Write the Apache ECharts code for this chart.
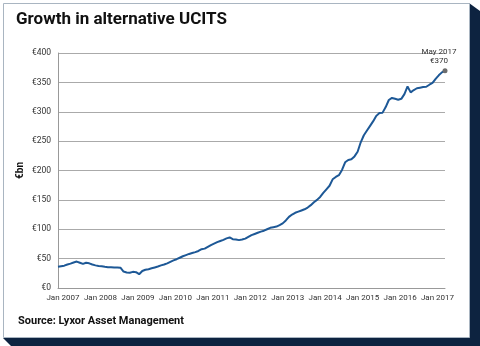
<!DOCTYPE html>
<html><head><meta charset="utf-8">
<script src="https://cdn.jsdelivr.net/npm/echarts@6/dist/echarts.min.js"></script>
<style>html,body{margin:0;padding:0;background:#fff}#c{width:480px;height:346px}</style>
</head><body><div id="c"></div>
<script>
// Monthly categories Jan 2007 .. May 2017
var monthNames = ['Jan','Feb','Mar','Apr','May','Jun','Jul','Aug','Sep','Oct','Nov','Dec'];
var startYear = 2007, endYear = 2017, endMonth = 4; // May 2017
var yTicks = [0, 50, 100, 150, 200, 250, 300, 350, 400];
// Assets in alternative UCITS, € bn, monthly
var aum = [
 36, 37, 38, 40, 41.5, 43.5, 45, 43, 41, 43, 42, 40,          // 2007
 38.5, 37.5, 37, 36, 35.5, 35.5, 35, 35, 34.5, 28, 26.5, 26,   // 2008
 27.5, 27, 23.5, 29, 31, 32, 33.5, 35, 36.5, 38.5, 40, 42,     // 2009
 44.5, 47, 49, 51.5, 54, 56, 58, 59.5, 61, 63, 66, 67,         // 2010
 70, 73, 75.5, 78, 80, 82, 84.5, 86, 83, 82.5, 81.5, 82.5,     // 2011
 84, 87, 90, 92, 94, 96, 97.5, 100, 102.5, 103.5, 104.5, 107,  // 2012
 110, 115, 121, 125, 128, 130, 132, 134, 137, 141, 146, 150,   // 2013
 155, 162, 168, 174, 185, 189, 192, 201, 214, 218, 219, 224,   // 2014
 232, 248, 260, 268, 276, 284, 293, 298, 298.5, 308, 320, 323.5, // 2015
 322, 320.5, 322, 330, 343, 333, 337, 340, 341, 342, 342.5, 346, // 2016
 349, 356, 362, 367, 370                                        // 2017
];
var lastLabel = 'May 2017';
var lastValue = 370;

var FONT = 'Roboto, "DejaVu Sans", sans-serif';
var months = [];
for (var y = startYear; y <= endYear; y++) {
  for (var m = 0; m < 12; m++) {
    if (y === endYear && m > endMonth) break;
    months.push(monthNames[m] + ' ' + y);
  }
}
var lastIdx = aum.length - 1;
var seriesData = aum.map(function (v, i) {
  if (i === lastIdx) {
    return {
      value: v,
      itemStyle: { color: '#6d6d6d' },
      label: {
        show: true, position: 'top', distance: 3, offset: [-6, 0],
        formatter: lastLabel + '\n€' + lastValue,
        fontFamily: FONT, fontSize: 8, lineHeight: 9, color: '#333', align: 'center'
      }
    };
  }
  return v;
});

var chart = echarts.init(document.getElementById('c'), null, { renderer: 'canvas' });
chart.setOption({
  animation: false,
  backgroundColor: '#ffffff',
  graphic: [
    { type: 'polygon', z: -10, shape: { points: [[469, 3], [480, 11], [480, 346], [11, 346], [3, 338], [469, 338]] }, style: { fill: '#0d2340' } },
    { type: 'rect', z: -9, shape: { x: 3.5, y: 3.5, width: 466, height: 334 }, style: { fill: '#ffffff', stroke: '#a9b5c1', lineWidth: 1 } },
    { type: 'text', z: 10, left: 16, top: 11, style: { text: 'Growth in alternative UCITS', font: 'bold 17px Roboto', fill: '#111' } },
    { type: 'text', z: 10, left: 18, top: 316, style: { text: 'Source: Lyxor Asset Management', font: 'bold 11px Roboto', fill: '#111' } }
  ],
  grid: { left: 58, right: 35, top: 53, bottom: 58 },
  xAxis: {
    type: 'category', data: months, boundaryGap: false,
    axisLine: { lineStyle: { color: '#999', width: 1 } },
    axisTick: { show: false },
    axisLabel: {
      interval: function (i) { return i % 12 === 0; },
      fontFamily: FONT, fontSize: 8, color: '#333', margin: 6,
      padding: [0, 0, 0, 10]
    },
    splitLine: { show: false }
  },
  yAxis: {
    type: 'value', min: yTicks[0], max: yTicks[yTicks.length - 1], interval: 50,
    name: '€bn', nameLocation: 'middle', nameGap: 33, nameRotate: 90, nameMoveOverlap: false,
    nameTextStyle: { fontFamily: 'Roboto', fontWeight: 'bold', fontSize: 10, color: '#111' },
    axisLine: { show: true, lineStyle: { color: '#999', width: 1 } },
    axisTick: { show: false },
    axisLabel: { formatter: function (v) { return '€' + v; }, fontFamily: FONT, fontSize: 8.5, color: '#333', margin: 7 },
    splitLine: { lineStyle: { color: '#aaa', width: 1 } }
  },
  series: [{
    type: 'line', data: seriesData, showSymbol: true, symbol: 'circle',
    symbolSize: function (v, p) { return p.dataIndex === lastIdx ? 5 : 0; },
    lineStyle: { color: '#1d5896', width: 2 },
    itemStyle: { color: '#1d5896' }
  }]
});
</script></body></html>
